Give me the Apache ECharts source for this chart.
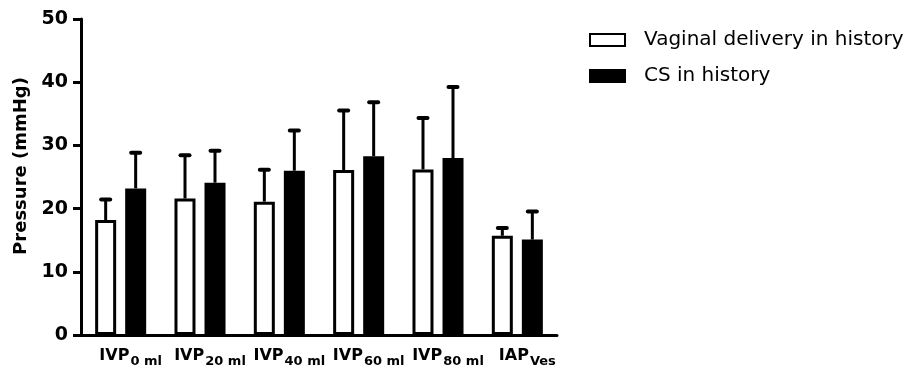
<!DOCTYPE html>
<html>
<head>
<meta charset="utf-8">
<script src="https://cdn.jsdelivr.net/npm/echarts@6/dist/echarts.min.js"></script>
<style>
  html, body { margin: 0; padding: 0; background: #fff; }
  #mainChart { width: 920px; height: 369px; }
</style>
</head>
<body>
<div id="mainChart"></div>
<script>
// categories: main text + subscript
var catMain = ['IVP', 'IVP', 'IVP', 'IVP', 'IVP', 'IAP'];
var catSub = ['0 ml', '20 ml', '40 ml', '60 ml', '80 ml', 'Ves'];

// mean values and upper error bar ends (mmHg)
var vaginalMean = [18.2, 21.6, 21.1, 26.1, 26.2, 15.7];
var vaginalUpper = [21.6, 28.6, 26.3, 35.7, 34.5, 17.1];
var csMean = [23.2, 24.1, 26.0, 28.3, 28.0, 15.1];
var csUpper = [29.0, 29.3, 32.5, 37.0, 39.4, 19.7];

var yTicks = [0, 10, 20, 30, 40, 50];

var categories = catMain.map(function (m, i) { return m + '|' + catSub[i]; });

var fontFam = '"DejaVu Sans", Verdana, sans-serif';

function errorRender(offset) {
    return function (params, api) {
        var i = api.value(0);
        var base = api.coord([i, api.value(1)]);
        var top = api.coord([i, api.value(2)]);
        var x = base[0] + offset;
        return {
            type: 'group',
            children: [{
                type: 'line',
                shape: { x1: x, y1: base[1], x2: x, y2: top[1] },
                style: { stroke: '#000', lineWidth: 3 }
            }, {
                type: 'line',
                shape: { x1: x - 4.5, y1: top[1] + 1, x2: x + 4.5, y2: top[1] + 1 },
                style: { stroke: '#000', lineWidth: 4, lineCap: 'round' }
            }]
        };
    };
}

var myChart = echarts.init(document.getElementById('mainChart'));

myChart.setOption({
    animation: false,
    textStyle: { fontFamily: fontFam },
    grid: { left: 81, right: 363, top: 19, bottom: 34, containLabel: false },
    legend: {
        orient: 'vertical',
        left: 589,
        top: 30,
        padding: 0,
        icon: 'rect',
        itemWidth: 35,
        itemHeight: 12,
        itemGap: 16,
        textStyle: { fontSize: 20, color: '#000', fontFamily: fontFam, padding: [0, 0, 0, 14] },
        data: ['Vaginal delivery in history', 'CS in history']
    },
    xAxis: {
        type: 'category',
        data: categories,
        axisLine: { lineStyle: { color: '#000', width: 3 } },
        axisTick: { alignWithLabel: true, length: 7, lineStyle: { color: '#000', width: 3 } },
        axisLabel: {
            interval: 0,
            margin: 13,
            formatter: function (v) {
                var p = v.split('|');
                return '{s|}{a|' + p[0] + '}{b|' + p[1] + '}';
            },
            rich: {
                s: { width: 20 },
                a: { fontSize: 16, fontWeight: 'bold', color: '#000', fontFamily: fontFam, verticalAlign: 'top', lineHeight: 20 },
                b: { fontSize: 13, fontWeight: 'bold', color: '#000', fontFamily: fontFam, verticalAlign: 'top', lineHeight: 20, padding: [7, 0, 0, 1] }
            }
        }
    },
    yAxis: {
        type: 'value',
        min: yTicks[0],
        max: yTicks[yTicks.length - 1],
        interval: 10,
        name: 'Pressure (mmHg)',
        nameLocation: 'middle',
        nameGap: 50,
        nameTextStyle: { fontSize: 18, fontWeight: 'bold', color: '#000', fontFamily: fontFam, padding: [0, 0, 0, 22] },
        axisLine: { show: true, lineStyle: { color: '#000', width: 3 } },
        axisTick: { show: true, length: 8, lineStyle: { color: '#000', width: 3 } },
        axisLabel: { margin: 13, fontSize: 19, fontWeight: 'bold', color: '#000' },
        splitLine: { show: false }
    },
    series: [{
        name: 'Vaginal delivery in history',
        type: 'bar',
        barWidth: 21,
        barGap: '43%',
        data: vaginalMean,
        itemStyle: { color: '#fff', borderColor: '#000', borderWidth: 3 }
    }, {
        name: 'CS in history',
        type: 'bar',
        barWidth: 21,
        data: csMean,
        itemStyle: { color: '#000', borderColor: '#000', borderWidth: 3 }
    }, {
        type: 'custom',
        z: 3,
        renderItem: errorRender(-15),
        data: vaginalMean.map(function (m, i) { return [i, m, vaginalUpper[i]]; })
    }, {
        type: 'custom',
        z: 3,
        renderItem: errorRender(15),
        data: csMean.map(function (m, i) { return [i, m, csUpper[i]]; })
    }]
});
</script>
</body>
</html>
